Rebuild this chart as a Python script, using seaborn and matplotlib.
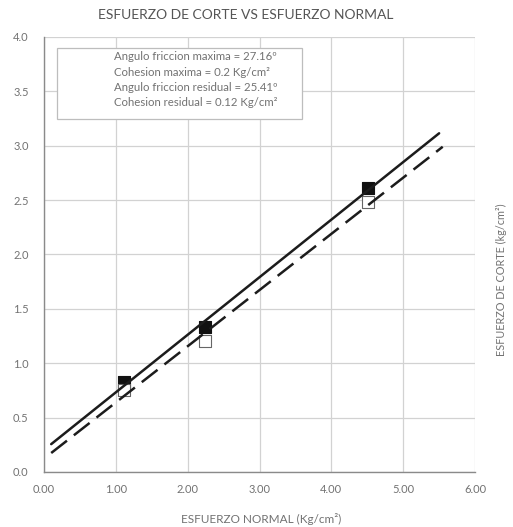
import numpy as np
import pandas as pd
import matplotlib
matplotlib.use("Agg")
import matplotlib.pyplot as plt
import seaborn as sns

# Direct shear test results
esfuerzo_normal = [1.11, 2.24, 4.51]          # Kg/cm2
corte_maximo = [0.83, 1.33, 2.61]             # peak shear, Kg/cm2
corte_residual = [0.75, 1.20, 2.48]           # residual shear, Kg/cm2

# Range covered by the failure envelopes
rango_max = [0.10, 5.50]
rango_res = [0.10, 5.55]

resumen = [
    "Angulo friccion maxima = 27.16º",
    "Cohesion maxima = 0.2 Kg/cm²",
    "Angulo friccion residual = 25.41º",
    "Cohesion residual = 0.12 Kg/cm²",
]

x_ticks = [0, 1, 2, 3, 4, 5, 6]
y_ticks = [0.0, 0.5, 1.0, 1.5, 2.0, 2.5, 3.0, 3.5, 4.0]

sns.set_theme(style="white")
plt.rcParams["font.family"] = ["Lato", "DejaVu Sans"]

texto = "#727272"
grid = "#d2d2d2"

fig = plt.figure(figsize=(5.13, 5.27), dpi=100)
ax = fig.add_axes([0.0858, 0.1044, 0.8402, 0.8254])

# Linear envelopes (least squares through each series)
m_max, b_max = np.polyfit(esfuerzo_normal, corte_maximo, 1)
m_res, b_res = np.polyfit(esfuerzo_normal, corte_residual, 1)
env = pd.DataFrame({
    "x": rango_max + rango_res,
    "y": [b_max + m_max * v for v in rango_max] + [b_res + m_res * v for v in rango_res],
    "serie": ["max", "max", "res", "res"],
})
sns.lineplot(data=env[env.serie == "max"], x="x", y="y", ax=ax, color="#1c1c1c",
             linewidth=1.8, zorder=4, legend=False)
sns.lineplot(data=env[env.serie == "res"], x="x", y="y", ax=ax, color="#1c1c1c",
             linewidth=1.8, dashes=False, zorder=4, legend=False)
ax.lines[-1].set_dashes([8, 3.5])

pts = pd.DataFrame({"x": esfuerzo_normal, "max": corte_maximo, "res": corte_residual})
sns.scatterplot(data=pts, x="x", y="max", ax=ax, marker="s", s=80, color="#111111",
                edgecolor="#111111", linewidth=0.8, zorder=3)
sns.scatterplot(data=pts, x="x", y="res", ax=ax, marker="s", s=80, color="white",
                edgecolor="#666666", linewidth=0.8, zorder=3.5)

ax.set_xlim(0, 6)
ax.set_ylim(0, 4)
ax.set_xticks(x_ticks)
ax.set_xticklabels([f"{v:.2f}" for v in x_ticks])
ax.set_yticks(y_ticks)
ax.set_yticklabels([f"{v:.1f}" for v in y_ticks])
ax.grid(True, color=grid, linewidth=0.9)
ax.set_axisbelow(True)
for side in ["top", "right"]:
    ax.spines[side].set_visible(False)
for side in ["left", "bottom"]:
    ax.spines[side].set_color("#8a8a8a")
    ax.spines[side].set_linewidth(1.0)
ax.tick_params(axis="both", length=0, labelsize=8, labelcolor=texto)
ax.tick_params(axis="x", pad=9)
ax.tick_params(axis="y", pad=11)
ax.set_xlabel("")
ax.set_ylabel("")

# Summary box
caja = plt.Rectangle((57 / 513, 1 - 119 / 527), (302 - 57) / 513, (119 - 48) / 527,
                     transform=fig.transFigure, facecolor="white", edgecolor="#bdbdbd",
                     linewidth=0.9, zorder=5)
fig.add_artist(caja)
for i, linea in enumerate(resumen):
    fig.text(114 / 513, 1 - (57 + 15.3 * i) / 527, linea, fontsize=8.2, color=texto,
             ha="left", va="center", zorder=6)

fig.text(246 / 513, 1 - 15 / 527, "ESFUERZO DE CORTE VS ESFUERZO NORMAL",
         fontsize=10, color="#555555", ha="center", va="center")
fig.text(261 / 513, 1 - 519 / 527, "ESFUERZO NORMAL (Kg/cm²)",
         fontsize=8.5, color=texto, ha="center", va="center")
fig.text(501 / 513, 1 - 280 / 527, "ESFUERZO DE CORTE (kg/cm²)",
         fontsize=7.8, color=texto, ha="center", va="center", rotation=90)

fig.savefig("out.png", dpi=100, facecolor="white")
